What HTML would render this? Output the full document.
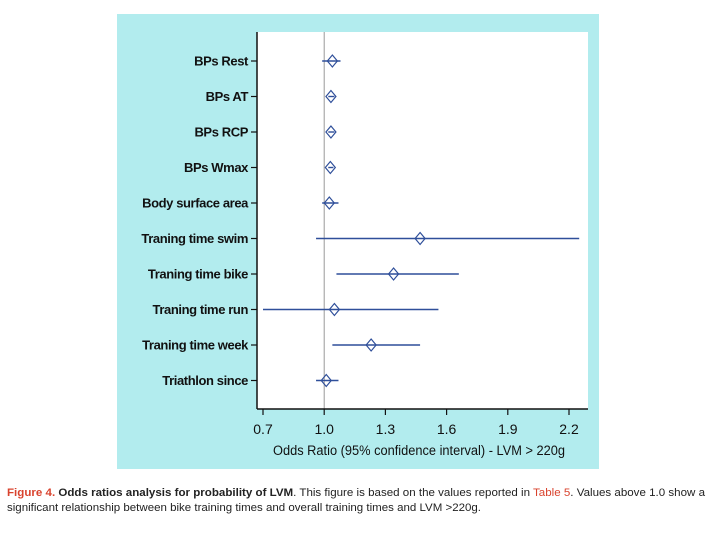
<!DOCTYPE html>
<html><head><meta charset="utf-8"><style>
html,body{margin:0;padding:0;background:#fff;}
svg{display:block;font-family:"Liberation Sans",Arial,sans-serif;}
</style></head><body>
<svg id="chart" width="716" height="541" viewBox="0 0 716 541">
  <rect x="117" y="14" width="482" height="455" fill="#b2ecee"/>
  <rect x="257" y="32" width="331" height="377" fill="#ffffff"/>
  <g id="grid"></g>
  <g id="marks"></g>
  <g id="axes"></g>
  <text x="419" y="455" font-size="13.5" text-anchor="middle" fill="#111" textLength="292" lengthAdjust="spacingAndGlyphs">Odds Ratio (95% confidence interval) - LVM &gt; 220g</text>
  <g font-size="11" fill="#222">
    <text x="7" y="496" textLength="698" lengthAdjust="spacingAndGlyphs"><tspan fill="#d9432e" font-weight="bold">Figure 4.</tspan> <tspan font-weight="bold">Odds ratios analysis for probability of LVM</tspan>. This figure is based on the values reported in <tspan fill="#d9432e">Table 5</tspan>. Values above 1.0 show a</text>
    <text x="7" y="511" textLength="474" lengthAdjust="spacingAndGlyphs">significant relationship between bike training times and overall training times and LVM &gt;220g.</text>
  </g>
</svg>
<script>
const categories = ["BPs Rest","BPs AT","BPs RCP","BPs Wmax","Body surface area","Traning time swim","Traning time bike","Traning time run","Traning time week","Triathlon since"];
const oddsRatio = [1.04,1.033,1.033,1.03,1.025,1.47,1.34,1.05,1.23,1.01];
const ciLow = [0.99,1.02,1.02,1.02,0.99,0.96,1.06,0.70,1.04,0.96];
const ciHigh = [1.08,1.05,1.05,1.045,1.07,2.25,1.66,1.56,1.47,1.07];
const xTicks = [0.7,1.0,1.3,1.6,1.9,2.2];
const xTickLabels = ["0.7","1.0","1.3","1.6","1.9","2.2"];
const refValue = 1.0;

const NS = "http://www.w3.org/2000/svg";
const xScale = v => 263 + (v - 0.7) * 204;
const yScale = i => 61 + i * 35.5;
function mk(tag, attrs, parent){ const e=document.createElementNS(NS,tag); for(const k in attrs) e.setAttribute(k,attrs[k]); parent.appendChild(e); return e; }
const grid=document.getElementById("grid"), marks=document.getElementById("marks"), axes=document.getElementById("axes");

const ref = mk("line",{x1:xScale(refValue),x2:xScale(refValue),y1:32,y2:409,stroke:"#9a9a9a","stroke-width":1},grid);



categories.forEach((c,i)=>{
  const y=yScale(i);
  const g=mk("g",{},marks);
  
  
  mk("line",{x1:xScale(ciLow[i]),x2:xScale(ciHigh[i]),y1:y,y2:y,stroke:"#2f4f9a","stroke-width":1.4},g);
  const cx=xScale(oddsRatio[i]);
  mk("polygon",{points:`${cx},${y-6} ${cx+5},${y} ${cx},${y+6} ${cx-5},${y}`,fill:"none",stroke:"#2f4f9a","stroke-width":1.2},g);
  const lab=mk("text",{x:248,y:y+4.5,"font-size":13,"text-anchor":"end",fill:"#111","font-weight":"bold","letter-spacing":"-0.4"},axes);
  lab.textContent=c;
  
  
  mk("line",{x1:251,x2:257,y1:y,y2:y,stroke:"#111","stroke-width":1.2},axes);
});

const yAxis=mk("line",{x1:257,x2:257,y1:32,y2:409,stroke:"#111","stroke-width":1.5},axes);


const xAxis=mk("line",{x1:257,x2:588,y1:409,y2:409,stroke:"#111","stroke-width":1.5},axes);


xTicks.forEach((t,i)=>{
  const x=xScale(t);
  mk("line",{x1:x,x2:x,y1:409,y2:415,stroke:"#111","stroke-width":1.2},axes);
  const tl=mk("text",{x:x,y:434,"font-size":14,"text-anchor":"middle",fill:"#111"},axes);
  tl.textContent=xTickLabels[i];
  
  
});
</script>
</body></html>
